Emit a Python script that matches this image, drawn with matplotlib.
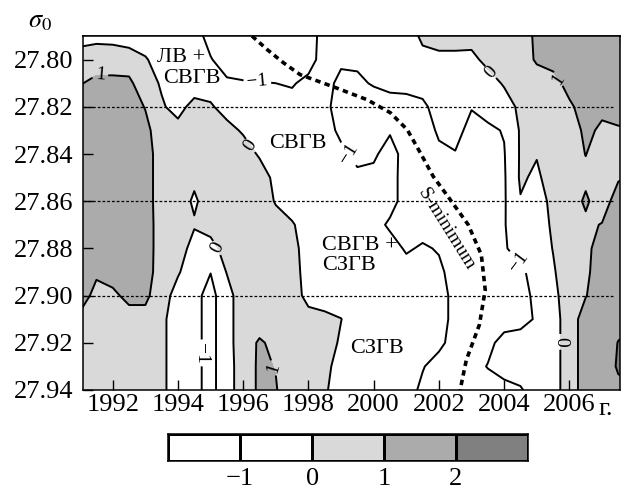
"""
Density-time section (sigma_0 vs year) of a salinity anomaly field with
filled contours, water-mass labels and the S-minimum core line.
Output: out.png (622x490)
"""

import numpy as np
import matplotlib.pyplot as plt
import matplotlib as mpl
from matplotlib.colors import ListedColormap, BoundaryNorm


mpl.rcParams.update({
    "font.family": "serif",
    "font.serif": ["Liberation Serif", "DejaVu Serif"],
    "mathtext.fontset": "stix",
    "axes.unicode_minus": True,
})

# grid nodes of the field (columns = years, rows = sigma_0)
YEARS = np.arange(1991.0, 2008.01, 0.5)
SIGMA = np.array([27.79, 27.80, 27.81, 27.82, 27.83, 27.84, 27.85, 27.86,
                  27.87, 27.88, 27.89, 27.90, 27.91, 27.92, 27.93, 27.94])

FIELD = np.array([
    [-0.5, -0.3, -0.35, -0.5, -0.6, -0.6, -0.5, -0.46, -1.46, -1.6, -1.6, -1.6, -1.6, -1.5, -1.53, -0.53, -0.6, -0.6,
     -0.5, -0.5, -0.73, 0.27, 0.5, 0.5, 0.5, 0.5, 0.5, 0.28, 1.28, 1.5, 1.5, 1.5, 1.5, 1.5, 1.5],
    [0.6, 0.6, 0.6, 0.5, 0.1, -0.5, -0.5, -0.6, -0.92, -1.6, -1.7, -1.7, -1.6, -1.5, -1.47, -0.47, -0.8, -0.8,
     -0.7, -0.6, -0.6, -0.4, -0.3, -0.3, -0.35, 0.4, 0.5, 0.6, 1.1, 1.5, 1.5, 1.5, 1.5, 1.5, 1.5],
    [0.95, 1.2, 1.2, 1.2, 0.4, -0.1, -0.5, -0.5, -0.6, -0.8, -0.9, -0.95, -1.0, -1.1, -0.7, -0.61, -1.3, -1.2,
     -0.9, -0.8, -0.75, -0.7, -0.5, -0.5, -0.5, -0.6, 0.15, 0.5, 0.6, 0.5, 1.5, 1.5, 1.5, 1.5, 1.5],
    [1.5, 1.5, 1.5, 1.5, 0.95, 0.1, -0.3, 0.3, 0.15, -0.5, -0.6, -0.6, -0.6, -0.6, -0.5, -0.67, -1.6, -1.6,
     -1.6, -1.3, -1.3, -1.15, -0.7, -0.6, -0.95, -0.7, -0.68, 0.32, 0.5, 0.5, 0.76, 1.6, 1.2, 1.4, 1.5],
    [1.5, 1.5, 1.5, 1.5, 1.29, 0.4, 0.3, 0.5, 0.5, 0.4, -0.15, -0.5, -0.5, -0.5, -0.5, -0.64, -1.2, -1.5,
     -1.5, -1.1, -1.5, -1.5, -0.85, -0.7, -1.3, -1.15, -0.95, 0.1, 0.5, 0.5, 0.5, 1.2, 0.85, 0.9, 0.9],
    [1.5, 1.5, 1.5, 1.5, 1.47, 0.47, 0.5, 0.5, 0.5, 0.5, 0.6, -0.15, -0.5, -0.5, -0.5, -0.5, -0.8, -1.25,
     -1.15, -0.6, -1.4, -1.5, -1.2, -1.05, -1.3, -1.5, -1.05, 0.1, 0.05, 0.5, 0.6, 1.02, 0.6, 0.7, 0.7],
    [1.5, 1.5, 1.5, 1.5, 1.47, 0.47, 0.5, 0.2, 0.5, 0.5, 0.5, 0.65, -0.35, -0.5, -0.5, -0.5, -0.5, -0.8,
     -0.75, -0.56, -1.5, -1.5, -1.5, -1.5, -1.5, -1.5, -1.1, 0.12, -0.15, 0.4, 0.5, 0.8, 0.5, 0.9, 1.1],
    [1.5, 1.5, 1.5, 1.5, 1.47, 0.47, 0.5, -0.15, 0.5, 0.5, 0.5, 0.7, -0.1, -0.5, -0.5, -0.5, -0.5, -0.5,
     -0.5, -0.56, -1.5, -1.5, -1.5, -1.5, -1.5, -1.5, -1.1, -0.05, -0.6, 0.36, 0.5, 1.15, 0.49, 1.49, 1.5],
    [1.5, 1.5, 1.5, 1.5, 1.5, 0.5, 0.5, 0.1, 0.5, 0.5, 0.5, 0.5, 0.5, 0.1, -0.5, -0.5, -0.5, -0.5,
     -0.54, -1.2, -1.5, -1.5, -1.5, -1.5, -1.5, -1.5, -1.05, -0.5, -0.6, 0.18, 0.5, 0.8, 1.05, 1.5, 1.5],
    [1.5, 1.5, 1.5, 1.5, 1.5, 0.5, 0.56, -0.44, -0.46, 0.54, 0.5, 0.5, 0.5, 0.41, -0.59, -0.5, -0.5, -0.5,
     -0.5, -0.5, -1.15, -0.85, -1.1, -1.4, -1.5, -1.5, -1.15, -0.4, -0.5, 0.03, 0.5, 0.72, 1.5, 1.5, 1.5],
    [1.3, 1.1, 1.3, 1.4, 1.45, 0.5, 0.1, -0.6, -0.98, 0.05, 0.5, 0.5, 0.5, 0.49, -0.5, -0.5, -0.5, -0.5,
     -0.5, -0.5, -0.5, -0.5, -0.75, -1.5, -1.5, -1.5, -1.5, -1.29, -0.4, -0.1, 0.55, 0.78, 1.6, 1.5, 1.5],
    [1.3, 0.8, 0.85, 1.2, 1.2, 0.45, -0.4, -0.75, -1.3, -0.4, 0.6, 0.5, 0.5, 0.67, -0.45, -0.6, -0.5, -0.5,
     -0.5, -0.5, -0.5, -0.5, -0.6, -1.3, -1.5, -1.5, -1.4, -1.3, -0.8, -0.3, 0.6, 0.96, 1.5, 1.5, 1.5],
    [0.85, 0.6, 0.6, 0.7, 0.7, 0.25, -0.6, -0.75, -1.3, -0.4, 0.6, 0.6, 0.5, 0.5, 0.5, 0.3, 0.02, -0.5,
     -0.5, -0.5, -0.5, -0.5, -0.6, -1.3, -1.5, -1.5, -1.5, -1.3, -0.9, -0.4, 0.5, 1.45, 1.5, 1.7, 1.8],
    [0.6, 0.6, 0.6, 0.6, 0.6, 0.25, -0.6, -0.75, -1.3, -0.4, 0.6, 1.1, 0.8, 0.5, 0.5, 0.5, -0.15, -0.5,
     -0.5, -0.5, -0.5, -0.5, -0.7, -1.5, -1.4, -1.3, -0.6, -0.6, -0.5, -0.4, 0.5, 1.45, 1.5, 2.03, 2.4],
    [0.6, 0.6, 0.6, 0.6, 0.6, 0.25, -0.6, -0.75, -1.3, -0.4, 0.5, 1.15, 0.97, 0.5, 0.5, 0.4, -0.6, -0.5,
     -0.5, -0.5, -0.5, -0.92, -1.5, -1.5, -1.4, -0.95, -0.5, -0.5, -0.5, -0.4, 0.5, 1.45, 1.5, 2.1, 2.4],
    [0.6, 0.6, 0.6, 0.6, 0.6, 0.25, -0.6, -0.75, -1.3, -0.4, 0.5, 1.15, 1.05, 0.5, 0.5, 0.15, -0.6, -0.5,
     -0.5, -0.5, -0.5, -1.25, -1.5, -1.5, -1.5, -1.5, -1.4, -1.1, -0.5, -0.4, 0.5, 1.45, 1.5, 1.8, 1.8],
])

FILL_LEVELS = [-3, -1, 0, 1, 2, 4]
FILL_COLORS = ["white", "white", "#d9d9d9", "#ababab", "#808080"]
LINE_LEVELS = [-1, 0, 1, 2]

# S-minimum core line
SMIN_YEAR = [1996.27, 1996.74, 1997.23, 1997.75, 1998.76, 1999.80, 2000.51, 2001.03, 2001.43,
             2001.83, 2002.35, 2002.90, 2003.30, 2003.42, 2003.24, 2002.84, 2002.65]
SMIN_SIGMA = [27.790, 27.7958, 27.8013, 27.8064, 27.8115, 27.8170, 27.8225, 27.8297, 27.8395,
              27.8496, 27.8594, 27.8700, 27.8827, 27.8976, 27.9124, 27.9273, 27.9400]

# survey dates marked on the top axis
CRUISE_YEARS = [1991.24, 1991.55, 1992.68, 1994.06, 1995.45, 1996.83, 1997.68,
                2000.72, 2002.71, 2004.49, 2005.50, 2006.55, 2007.53]

YEAR_TICKS = [1992, 1994, 1996, 1998, 2000, 2002, 2004, 2006]
SIGMA_TICKS = [27.80, 27.82, 27.84, 27.86, 27.88, 27.90, 27.92, 27.94]
DOTTED_SIGMA = [27.82, 27.86, 27.90]

LABEL_SPOTS = [(1991.61, 27.8072), (1996.43, 27.8098), (1996.12, 27.8373), (1999.19, 27.8403),
               (2003.57, 27.8055), (2005.63, 27.8085), (1995.20, 27.8798), (1994.68, 27.9243),
               (1997.04, 27.9302), (2004.40, 27.8861), (2005.75, 27.9196)]
LABEL_FMT = {-1: "\u22121", 0: "0", 1: "1"}

WATER_MASSES = [
    ("ЛВ +", 1993.36, 27.8008, "left"),
    ("СВГВ", 1993.54, 27.8098, "left"),
    ("СВГВ", 1997.68, 27.8373, "center"),
    ("СВГВ +", 1998.42, 27.8806, "left"),
    ("СЗГВ", 1998.42, 27.8891, "left"),
    ("СЗГВ", 2000.11, 27.9243, "center"),
]

CBAR_EDGES = [-2, -1, 0, 1, 2, 3]
CBAR_TICKS = [-1, 0, 1, 2]
CBAR_LABELS = ["\u22121", "0", "1", "2"]


fig = plt.figure(figsize=(6.22, 4.90), dpi=100)
ax = fig.add_axes([0.133, 0.2041, 0.8637, 0.7224])

ax.contourf(YEARS, SIGMA, FIELD, levels=FILL_LEVELS, colors=FILL_COLORS)
cs = ax.contour(YEARS, SIGMA, FIELD, levels=LINE_LEVELS, colors="black",
                linewidths=1.4, linestyles="solid")
ax.clabel(cs, levels=[-1, 0, 1], manual=LABEL_SPOTS, fmt=LABEL_FMT,
          inline=True, inline_spacing=3, fontsize=14)

for s in DOTTED_SIGMA:
    ax.axhline(s, xmax=0.99, color="black", lw=0.9, ls=(0, (2.2, 1.6)), zorder=3)

ax.plot(SMIN_YEAR, SMIN_SIGMA, color="black", lw=2.6, dashes=(1.5, 1.2), zorder=4)
ax.text(2002.22, 27.8721, "S-minimum", rotation=-58, rotation_mode="anchor",
        ha="center", va="center", fontsize=14, zorder=5)

for txt, x, y, ha in WATER_MASSES:
    ax.text(x, y, txt, ha=ha, va="baseline", fontsize=16, zorder=5)

ax.set_xlim(1991.08, 2007.55)
ax.set_ylim(27.94, 27.79)
ax.set_xticks(YEAR_TICKS)
ax.set_xticklabels([str(y) for y in YEAR_TICKS])
ax.set_yticks(SIGMA_TICKS)
ax.set_yticklabels([f"{s:.2f}" for s in SIGMA_TICKS])
ax.tick_params(axis="both", direction="in", length=7, width=1.0, labelsize=19)
ax.tick_params(axis="x", top=False, pad=3)
ax.tick_params(axis="y", right=False, pad=7)
for spine in ax.spines.values():
    spine.set_linewidth(1.1)

top = ax.secondary_xaxis("top")
top.set_xticks(CRUISE_YEARS)
top.tick_params(direction="in", length=7, width=1.0, labeltop=False, labelbottom=False)
top.spines["top"].set_linewidth(1.1)

fig.text(598 / 622, 1 - 415 / 490, "г.", ha="left", va="baseline", fontsize=19)
fig.text(40 / 622, 1 - 22 / 490, r"$\sigma_0$", ha="center", va="center", fontsize=19)

# discrete legend bar
cax = fig.add_axes([0.2706, 0.0598, 0.5778, 0.0545])
cmap = ListedColormap(FILL_COLORS)
norm = BoundaryNorm(FILL_LEVELS, cmap.N)
centers = [[-1.5, -0.5, 0.5, 1.5, 2.5]]
cax.pcolormesh(CBAR_EDGES, [0, 1], centers, cmap=cmap, norm=norm,
               edgecolors="black", linewidth=1.0)
cax.set_xlim(-2, 3)
cax.set_ylim(0, 1)
cax.set_yticks([])
cax.set_xticks(CBAR_TICKS)
cax.set_xticklabels(CBAR_LABELS)
cax.tick_params(axis="x", length=0, labelsize=19, pad=5)
for spine in cax.spines.values():
    spine.set_linewidth(1.1)

fig.savefig("out.png", dpi=100, facecolor="white")
